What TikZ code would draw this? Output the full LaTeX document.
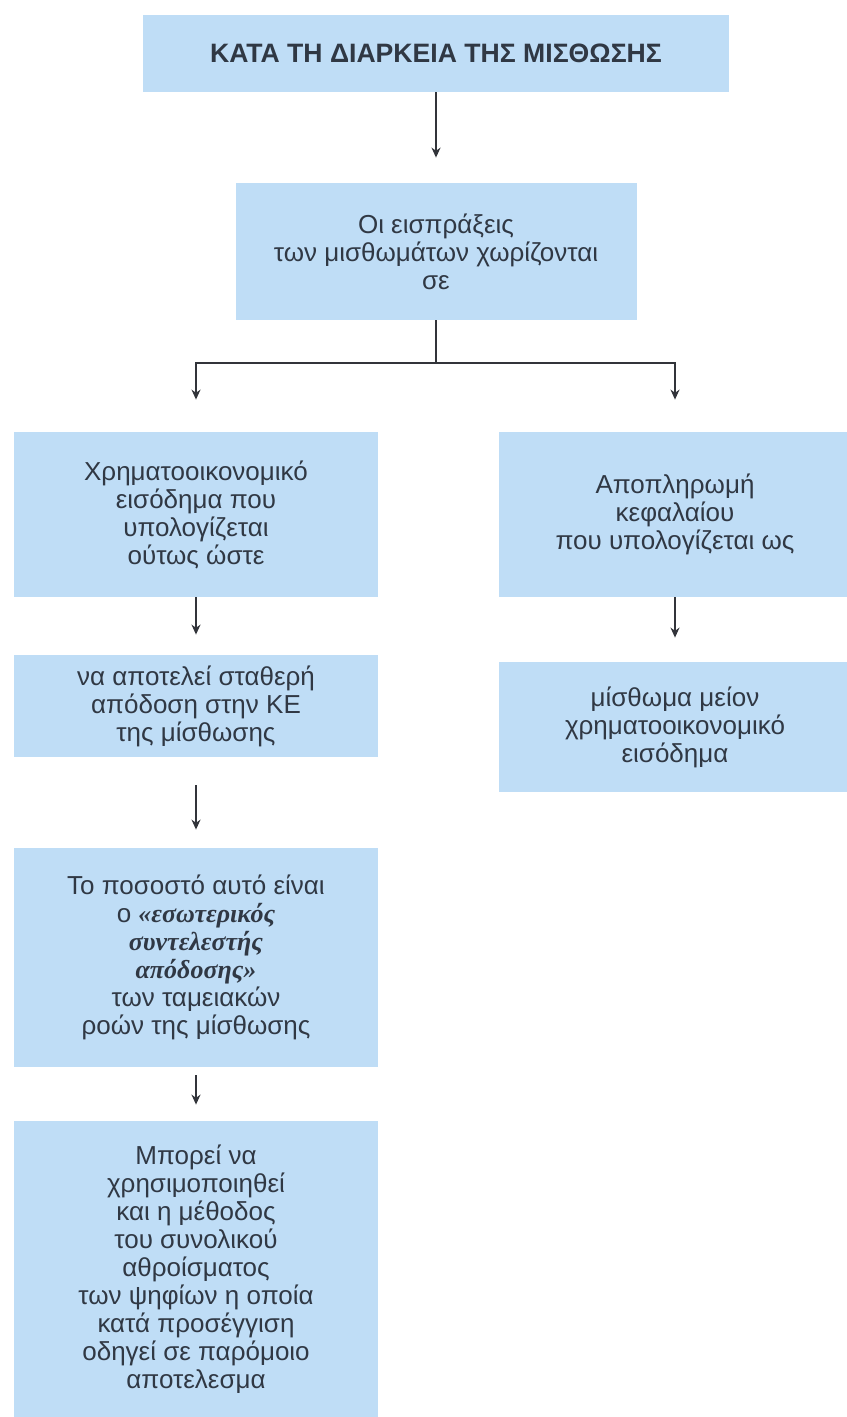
\documentclass[tikz,border=0pt]{standalone}
\usepackage{fontspec}
\setmainfont{Liberation Sans}
\newfontfamily\emphfont{Liberation Serif}
\usetikzlibrary{arrows.meta}
\definecolor{boxblue}{RGB}{191,221,246}
\definecolor{txt}{RGB}{48,56,68}
\definecolor{linec}{RGB}{50,52,58}
\newcommand{\bi}[1]{{\emphfont\bfseries\itshape #1}}
\tikzset{
  box/.style={rectangle, fill=boxblue, draw=none, align=center, text=txt, inner sep=0pt,
    font=\fontsize{13}{14}\selectfont},
  arr/.style={draw=linec, line width=0.8pt, -{Stealth[length=5pt,width=4.5pt]}},
  plain/.style={draw=linec, line width=0.8pt}
}
\begin{document}
\begin{tikzpicture}[x=0.5pt,y=-0.5pt]
\useasboundingbox (0,0) rectangle (846,1417);
\node[box, minimum width=293pt, minimum height=38.5pt, font=\fontsize{13.3}{14}\selectfont\bfseries] (title) at (436,53.5) {ΚΑΤΑ ΤΗ ΔΙΑΡΚΕΙΑ ΤΗΣ ΜΙΣΘΩΣΗΣ};
\node[box, minimum width=200.5pt, minimum height=68.5pt] (split) at (436,251.5) {Οι εισπράξεις\\των μισθωμάτων χωρίζονται\\σε};
\node[box, minimum width=182pt, minimum height=82.5pt] (fin) at (196,514.5) {Χρηματοοικονομικό\\εισόδημα που\\υπολογίζεται\\ούτως ώστε};
\node[box, minimum width=182pt, minimum height=51pt] (yield) at (196,706) {να αποτελεί σταθερή\\απόδοση στην ΚΕ\\της μίσθωσης};
\node[box, minimum width=182pt, minimum height=109.5pt] (irr) at (196,957.5) {Το ποσοστό αυτό είναι\\ο \bi{«εσωτερικός}\\\bi{συντελεστής}\\\bi{απόδοσης»}\\των ταμειακών\\ροών της μίσθωσης};
\node[box, minimum width=182pt, minimum height=148pt] (sum) at (196,1269) {Μπορεί να\\χρησιμοποιηθεί\\και η μέθοδος\\του συνολικού\\αθροίσματος\\των ψηφίων η οποία\\κατά προσέγγιση\\οδηγεί σε παρόμοιο\\αποτελεσμα};
\node[box, minimum width=176pt, minimum height=82.5pt] (cap) at (675,514.5) {Αποπληρωμή\\κεφαλαίου\\που υπολογίζεται ως};
\node[box, minimum width=176pt, minimum height=65pt] (rent) at (675,727) {μίσθωμα μείον\\χρηματοοικονομικό\\εισόδημα};
\coordinate (fork) at (436,363);
\draw[arr, shorten >=12.5pt] (title) -- (split);
\draw[plain] (split.south) -- (fork);
\draw[arr, shorten >=16pt] (fork) -| (fin.north);
\draw[arr, shorten >=16pt] (fork) -| (cap.north);
\draw[arr, shorten >=10pt] (fin) -- (yield);
\draw[arr, shorten <=14pt, shorten >=9pt] (yield) -- (irr);
\draw[arr, shorten <=4pt, shorten >=8pt] (irr) -- (sum);
\draw[arr, shorten >=12pt] (cap) -- (rent);
\end{tikzpicture}
\end{document}
